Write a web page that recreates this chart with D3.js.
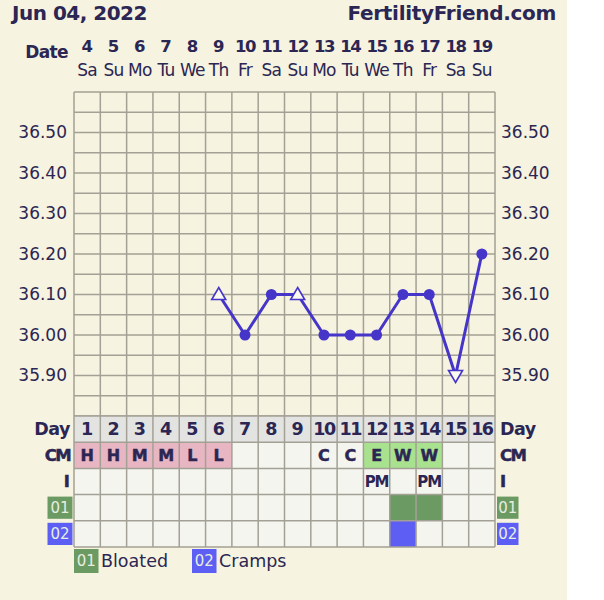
<!DOCTYPE html>
<html><head><meta charset="utf-8">
<script src="https://cdn.jsdelivr.net/npm/d3@7"></script>
<style>
html,body{margin:0;padding:0;background:#fff;}
svg{display:block;}
text{font-family:"DejaVu Sans",Verdana,sans-serif;fill:#2b2653;}
</style></head>
<body>
<script>
const title = "Jun 04, 2022";
const brand = "FertilityFriend.com";
const dates = [4,5,6,7,8,9,10,11,12,13,14,15,16,17,18,19];
const weekdays = ["Sa","Su","Mo","Tu","We","Th","Fr","Sa","Su","Mo","Tu","We","Th","Fr","Sa","Su"];
const cycleDays = [1,2,3,4,5,6,7,8,9,10,11,12,13,14,15,16];
const temps = [null,null,null,null,null,36.10,36.00,36.10,36.10,36.00,36.00,36.00,36.10,36.10,35.90,36.20];
const markers = ["","","","","","up","dot","dot","up","dot","dot","dot","dot","dot","down","dot"];
const cm = ["H","H","M","M","L","L","","","","C","C","E","W","W","",""];
const intercourse = ["","","","","","","","","","","","PM","","PM","",""];
const symptom01 = [0,0,0,0,0,0,0,0,0,0,0,0,1,1,0,0];
const symptom02 = [0,0,0,0,0,0,0,0,0,0,0,0,1,0,0,0];
const yTicks = [36.50,36.40,36.30,36.20,36.10,36.00,35.90];
const legendItems = [["01","Bloated"],["02","Cramps"]];

const W=604,H=600;
const svg=d3.select("body").append("svg").attr("width",W).attr("height",H);
const bg="#f6f3e0", ink="#2b2653", gridC="#a3a095", lineC="#4535c8";
svg.append("rect").attr("width",567).attr("height",H).attr("fill",bg);

const x=d3.scaleBand().domain(cycleDays).range([74,495]);
const y=d3.scaleLinear().domain([35.80,36.60]).range([416,92]);
const cw=x.bandwidth();
const L=74,R=495;

// header
svg.append("text").attr("x",12).attr("y",20).attr("font-size",20).attr("font-weight","bold").attr("letter-spacing",-0.5).text(title);
svg.append("text").attr("x",556).attr("y",20).attr("text-anchor","end").attr("font-size",20).attr("font-weight","bold").attr("letter-spacing",-0.3).text(brand);
svg.append("text").attr("x",68).attr("y",58).attr("text-anchor","end").attr("font-size",17).attr("font-weight","bold").attr("letter-spacing",-0.6).text("Date");
svg.selectAll(".dn").data(cycleDays).join("text").attr("x",d=>x(d)+cw/2).attr("y",52)
  .attr("text-anchor","middle").attr("font-size",16.5).attr("font-weight","bold")
  .attr("letter-spacing",(d,i)=>dates[i]>=10?-1.4:0).text((d,i)=>dates[i]);
svg.selectAll(".wd").data(cycleDays).join("text").attr("x",d=>x(d)+cw/2).attr("y",76)
  .attr("text-anchor","middle").attr("font-size",17).attr("letter-spacing",-0.7).text((d,i)=>weekdays[i]);

// temp grid
const g=svg.append("g");
const hLines=d3.range(0,17).map(i=>35.80+i*0.05);
g.selectAll(".hl").data(hLines).join("line").attr("x1",L).attr("x2",R)
  .attr("y1",d=>y(d)).attr("y2",d=>y(d)).attr("stroke",gridC).attr("stroke-width",1.5);
g.selectAll(".vl").data(d3.range(0,17)).join("line")
  .attr("x1",i=>L+i*cw).attr("x2",i=>L+i*cw).attr("y1",y(36.60)).attr("y2",y(35.80))
  .attr("stroke",gridC).attr("stroke-width",1.5);

// y labels
const fmt=d3.format(".2f");
svg.selectAll(".yl").data(yTicks).join("text").attr("x",67).attr("y",d=>y(d)).attr("dy","0.35em")
  .attr("text-anchor","end").attr("font-size",17).text(fmt);
svg.selectAll(".yr").data(yTicks).join("text").attr("x",501).attr("y",d=>y(d)).attr("dy","0.35em")
  .attr("text-anchor","start").attr("font-size",17).text(fmt);

// line
const pts=cycleDays.map((d,i)=>({d,t:temps[i],m:markers[i]})).filter(p=>p.t!=null);
const line=d3.line().x(p=>x(p.d)+cw/2).y(p=>y(p.t));
svg.append("path").attr("d",line(pts)).attr("fill","none").attr("stroke",lineC).attr("stroke-width",3).attr("stroke-linejoin","round");
svg.selectAll(".dot").data(pts.filter(p=>p.m==="dot")).join("circle")
  .attr("cx",p=>x(p.d)+cw/2).attr("cy",p=>y(p.t)).attr("r",5.5).attr("fill",lineC);
svg.selectAll(".tri").data(pts.filter(p=>p.m==="up"||p.m==="down")).join("path")
  .attr("transform",p=>`translate(${x(p.d)+cw/2},${y(p.t)})`)
  .attr("d",p=>p.m==="up"?"M0,-7 L7,5 L-7,5 Z":"M0,7 L7,-5 L-7,-5 Z")
  .attr("fill","#fbfaf0").attr("stroke",lineC).attr("stroke-width",1.6);

// table
const tTop=416, rh=26.2;
const cmFill=v=>({H:"#e8b5c2",M:"#e8b5c2",L:"#e8b5c2",E:"#a9e28f",W:"#a9e28f"}[v]||"#f5f5ef");
const tbl=svg.append("g");
cycleDays.forEach((d,i)=>{
  const cx=x(d);
  const fills=["#e3e3e1",cmFill(cm[i]),"#f5f5ef",symptom01[i]?"#6c9a63":"#f5f5ef",symptom02[i]?"#5d5ef3":"#f5f5ef"];
  fills.forEach((f,r)=>{
    tbl.append("rect").attr("x",cx).attr("y",tTop+r*rh).attr("width",cw).attr("height",rh).attr("fill",f);
  });
});
tbl.selectAll(".th").data(d3.range(0,6)).join("line").attr("x1",L).attr("x2",R)
  .attr("y1",r=>tTop+r*rh).attr("y2",r=>tTop+r*rh).attr("stroke",gridC).attr("stroke-width",1.5);
tbl.selectAll(".tv").data(d3.range(0,17)).join("line")
  .attr("x1",i=>L+i*cw).attr("x2",i=>L+i*cw).attr("y1",tTop).attr("y2",tTop+5*rh)
  .attr("stroke",gridC).attr("stroke-width",1.5);
svg.selectAll(".dayn").data(cycleDays).join("text").attr("x",d=>x(d)+cw/2).attr("y",tTop+rh/2).attr("dy","0.36em")
  .attr("text-anchor","middle").attr("font-size",17.5).attr("font-weight","bold")
  .attr("letter-spacing",d=>d>=10?-1.5:0).text(d=>d);
svg.selectAll(".cmt").data(cycleDays).join("text").attr("x",d=>x(d)+cw/2).attr("y",tTop+rh*1.5).attr("dy","0.36em")
  .attr("text-anchor","middle").attr("font-size",16).attr("font-weight","bold").style("stroke",ink).style("stroke-width",0.5).text((d,i)=>cm[i]);
svg.selectAll(".it").data(cycleDays).join("text").attr("x",d=>x(d)+cw/2).attr("y",tTop+rh*2.5).attr("dy","0.36em")
  .attr("text-anchor","middle").attr("font-size",15).attr("font-weight","bold").attr("letter-spacing",-1).text((d,i)=>intercourse[i]);

// row labels
[["Day",0],["CM",1],["I",2]].forEach(([t,r])=>{
  const fs=r===0?17.5:16.5;
  [[70,"end"],[500,"start"]].forEach(([tx,anc])=>{
    svg.append("text").attr("x",tx).attr("y",tTop+rh*(r+0.5)).attr("dy","0.36em").attr("text-anchor",anc)
      .attr("font-size",fs).attr("font-weight","bold").attr("letter-spacing",r===1?-1.6:(r===0?-0.5:0))
      .style("stroke",r===0?"none":ink).style("stroke-width",0.5).text(t);
  });
});
const symColors={"01":"#6c9a63","02":"#5d5ef3"};
[["01",3],["02",4]].forEach(([t,r])=>{
  [[47.5,25],[497,21.5]].forEach(([bx,bw])=>{
    svg.append("rect").attr("x",bx).attr("y",tTop+rh*r+2).attr("width",bw).attr("height",rh-4).attr("fill",symColors[t]);
    svg.append("text").attr("x",bx+bw/2).attr("y",tTop+rh*(r+0.5)).attr("dy","0.36em").attr("text-anchor","middle")
      .attr("font-size",15).style("fill","#e6eee0").text(t);
  });
});

// legend
const lx=[74,192];
legendItems.forEach(([code,label],i)=>{
  svg.append("rect").attr("x",lx[i]).attr("y",549).attr("width",24.5).attr("height",24).attr("fill",symColors[code]);
  svg.append("text").attr("x",lx[i]+12.25).attr("y",561).attr("dy","0.36em").attr("text-anchor","middle")
    .attr("font-size",15).style("fill","#e6eee0").text(code);
  svg.append("text").attr("x",lx[i]+27).attr("y",561).attr("dy","0.36em").attr("font-size",17.5).text(label);
});
</script>
</body></html>
